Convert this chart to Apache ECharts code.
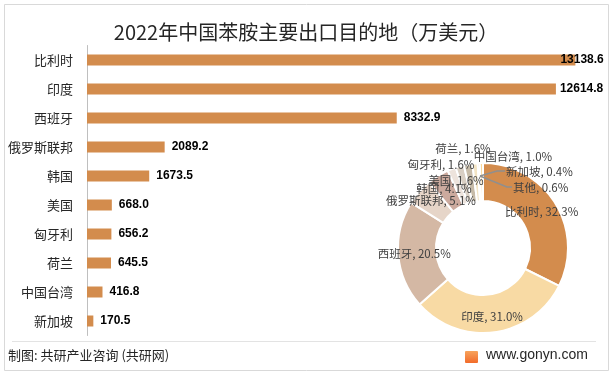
<!DOCTYPE html>
<html><head><meta charset="utf-8">
<script src="https://cdn.jsdelivr.net/npm/echarts@6/dist/echarts.min.js"></script>
<style>html,body{margin:0;padding:0;background:#fff}#c{width:615px;height:373px}</style>
</head><body><div id="c"></div>
<script>
const titleText = '2022年中国苯胺主要出口目的地（万美元）';
const barCategories = ['比利时','印度','西班牙','俄罗斯联邦','韩国','美国','匈牙利','荷兰','中国台湾','新加坡'];
const barValues = [13138.6, 12614.8, 8332.9, 2089.2, 1673.5, 668.0, 656.2, 645.5, 416.8, 170.5];
const pieNames = ['比利时','印度','西班牙','俄罗斯联邦','韩国','美国','匈牙利','荷兰','中国台湾','新加坡','其他'];
const pieShares = [32.3, 31.0, 20.5, 5.1, 4.1, 1.6, 1.6, 1.6, 1.0, 0.4, 0.6];
const pieColors = ['#D38C4D','#F8DAA4','#D4B8A4','#E6D5C8','#CCAA9E','#EDE3DC','#D9CFC4','#C7BBA8','#F3E4C4','#E8A05A','#F9D89A'];
const footerLeft = '制图: 共研产业咨询 (共研网)';
const footerRight = 'www.gonyn.com';

// label placements for the small slices (label anchor in px) and their leader lines
const smallLabelPos = {
  3: {x: 431, y: 201, align: 'center'},
  4: {x: 444, y: 189, align: 'center'},
  5: {x: 456, y: 181, align: 'center'},
  6: {x: 441, y: 165, align: 'center'},
  7: {x: 463, y: 149, align: 'center'},
  8: {x: 513, y: 157, align: 'center'},
  9: {x: 506, y: 172, align: 'left', line: [[480, 176], [497, 171], [505, 171]]},
  10: {x: 513, y: 188, align: 'left', line: [[480, 176], [507, 187], [512, 187]]}
};

const chart = echarts.init(document.getElementById('c'), null, {renderer: 'canvas'});
const CJK = '"Noto Sans CJK SC","Noto Sans",sans-serif';

const barData = barValues.map((v, i) => {
  const d = {value: v};
  if (i === 0) d.label = {offset: [-22, 0]};
  if (i === 1) d.label = {distance: 4};
  return d;
});

const pieData = pieNames.map((n, i) => ({name: n, value: pieShares[i], itemStyle: {color: pieColors[i]}}));

const leaderKeys = Object.keys(smallLabelPos).filter(k => smallLabelPos[k].line);

chart.setOption({
  animation: false,
  backgroundColor: '#fff',
  title: {
    text: titleText, left: 301, top: 17, textAlign: 'center',
    textStyle: {fontFamily: CJK, fontSize: 20, fontWeight: 'normal', color: '#262626'}
  },
  grid: {left: 87, right: 7.6, top: 45.5, height: 290, containLabel: false},
  xAxis: {type: 'value', min: 0, max: 14000, show: false},
  yAxis: {
    type: 'category', data: barCategories, inverse: true,
    axisLine: {show: true, lineStyle: {color: '#BFBFBF'}},
    axisTick: {show: false},
    axisLabel: {fontFamily: CJK, fontSize: 13, color: '#262626', margin: 14}
  },
  series: [
    {
      type: 'bar', data: barData, barWidth: 11,
      itemStyle: {color: '#D38C4D'},
      label: {
        show: true, position: 'right', distance: 7,
        formatter: p => p.value.toFixed(1),
        fontFamily: '"Liberation Sans",Arial,sans-serif', fontWeight: 'bold', fontSize: 12, color: '#000'
      },
      z: 2
    },
    {
      type: 'pie', center: [483, 248], radius: [47, 85],
      startAngle: 90, clockwise: true, avoidLabelOverlap: false,
      data: pieData,
      itemStyle: {borderColor: '#fff', borderWidth: 2},
      labelLine: {show: false},
      label: {
        show: true, position: 'inside',
        formatter: p => p.name + ', ' + p.value.toFixed(1) + '%',
        fontFamily: CJK, fontSize: 11.5, color: '#404040'
      },
      labelLayout: function (params) {
        const p = smallLabelPos[params.dataIndex];
        if (!p) return {};
        return {x: p.x, y: p.y, align: p.align, verticalAlign: 'middle', hideOverlap: false};
      },
      z: 5
    },
    {
      type: 'custom', coordinateSystem: 'none', silent: true, z: 20,
      data: leaderKeys.map((k, i) => i),
      renderItem: function (params) {
        const pts = smallLabelPos[leaderKeys[params.dataIndex]].line;
        return {
          type: 'polyline', shape: {points: pts},
          style: {stroke: '#8F8F8F', lineWidth: 1.4, fill: null}
        };
      }
    }
  ],
  graphic: {
    elements: [
      {type: 'rect', shape: {x: 4.5, y: 4.5, width: 604, height: 366}, style: {fill: null, stroke: '#D9D9D9', lineWidth: 1}, silent: true, z: 0},
      {type: 'line', shape: {x1: 12, y1: 341.5, x2: 596, y2: 341.5}, style: {stroke: '#E3E3E3', lineWidth: 1}, silent: true},
      {type: 'text', left: 8, top: 349, style: {text: footerLeft, font: '13px ' + CJK, fill: '#262626'}},
      {type: 'rect', shape: {x: 465, y: 351, width: 13, height: 12, r: 1}, style: {fill: new echarts.graphic.LinearGradient(0, 0, 0, 1, [{offset: 0, color: '#F7A35C'}, {offset: 1, color: '#F26B2A'}])}},
      {type: 'text', left: 486, top: 348, style: {text: footerRight, font: '14px "Liberation Sans",Arial,sans-serif', fill: '#262626'}}
    ]
  }
});
</script></body></html>
